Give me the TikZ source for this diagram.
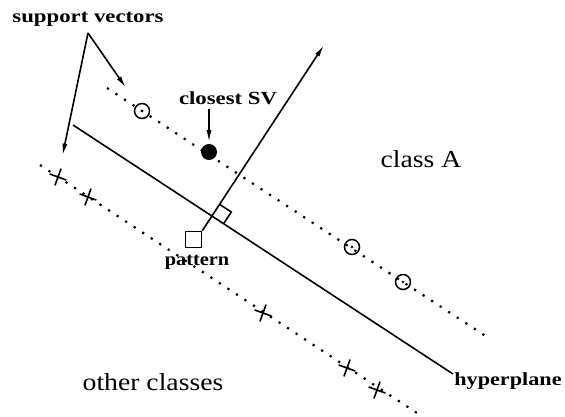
\documentclass[tikz,border=0pt]{standalone}
\usepackage{fontspec}
\setmainfont{Liberation Serif}
\usetikzlibrary{arrows.meta,calc,shapes.misc}

\newcommand{\widetext}[2]{\scalebox{#1}[1]{#2}}

\tikzset{
  lbl/.style={inner sep=0pt, font=\fontsize{18.5}{20}\selectfont\bfseries},
  biglbl/.style={inner sep=0pt, font=\fontsize{24.5}{26}\selectfont},
  margin/.style={line width=2.2pt, dash pattern=on 2.2pt off 8pt},
  svopen/.style={circle, draw, line width=1.5pt, minimum size=15pt, inner sep=0pt},
  svfull/.style={circle, fill, minimum size=16pt, inner sep=0pt},
  crossmark/.style={cross out, draw, line width=1.6pt, minimum size=11pt, inner sep=0pt, rotate=25},
}

\begin{document}
\begin{tikzpicture}[x=1pt, y=-1pt, >={Latex[length=12pt,width=5pt]}, line width=1.6pt]
	\useasboundingbox (0,0) rectangle (565,416);
	% margins and hyperplane
	\coordinate (upA) at (107,88);
	\coordinate (upB) at (487,337);
	\coordinate (loA) at (40,165);
	\coordinate (loB) at (420,415);
	\coordinate (hpA) at (73,125);
	\coordinate (hpB) at (453,374);
	\draw[margin] (upA) -- (upB);
	\draw[margin] (loA) -- (loB);
	\draw (hpA) -- (hpB);
	% support vectors of class A
	\node[svopen] (c1) at (142,111) {};
	\node[svopen] (c2) at (352,247) {};
	\node[svopen] (c3) at (403,282) {};
	\fill (c1) circle (1.4pt);
	\fill (c2) circle (1.4pt);
	\fill (c3) circle (1.4pt);
	\node[svfull] (full) at (209,152) {};
	% other classes
	\node[crossmark] (x1) at (58,177) {};
	\node[crossmark] (x2) at (88,197) {};
	\node[crossmark] (x3) at (263,313) {};
	\node[crossmark] (x4) at (347,368) {};
	\node[crossmark] (x5) at (377,390) {};
	% pattern and normal
	\node[draw, minimum size=16pt, inner sep=0pt] (pattern) at (193.5,239.5) {};
	\coordinate (tip) at (324,45);
	\coordinate (foot) at ($(hpA)!(pattern.north east)!(hpB)$);
	\draw[->] (pattern.north east) -- (tip);
	\coordinate (ra1) at ($(foot)!14pt!(tip)$);
	\coordinate (ra2) at ($(foot)!14pt!(hpB)$);
	\draw (ra1) -- ($(ra1)+(ra2)-(foot)$) -- (ra2);
	% labels
	\node[lbl] (sv) at (88,19) {\widetext{1.23}{support vectors}};
	\node[lbl] (csv) at (228,98) {\widetext{1.23}{closest SV}};
	\node[lbl] (plbl) at (197,262) {\widetext{1.1}{pattern}};
	\node[lbl] (hlbl) at (508,381) {\widetext{1.2}{hyperplane}};
	\node[biglbl] (clA) at (421,159) {\widetext{1.13}{class A}};
	\node[biglbl] (other) at (153,382) {\widetext{1.13}{other classes}};
	\coordinate (svroot) at ([yshift=-6pt]sv.south);
	\draw[->, shorten >=20pt] (svroot) -- (c1);
	\draw[->, shorten >=14pt] (svroot) -- (x1);
	\draw[->, shorten <=4pt, shorten >=1pt] (csv.south -| full.north) -- (full.north);
\end{tikzpicture}
\end{document}
